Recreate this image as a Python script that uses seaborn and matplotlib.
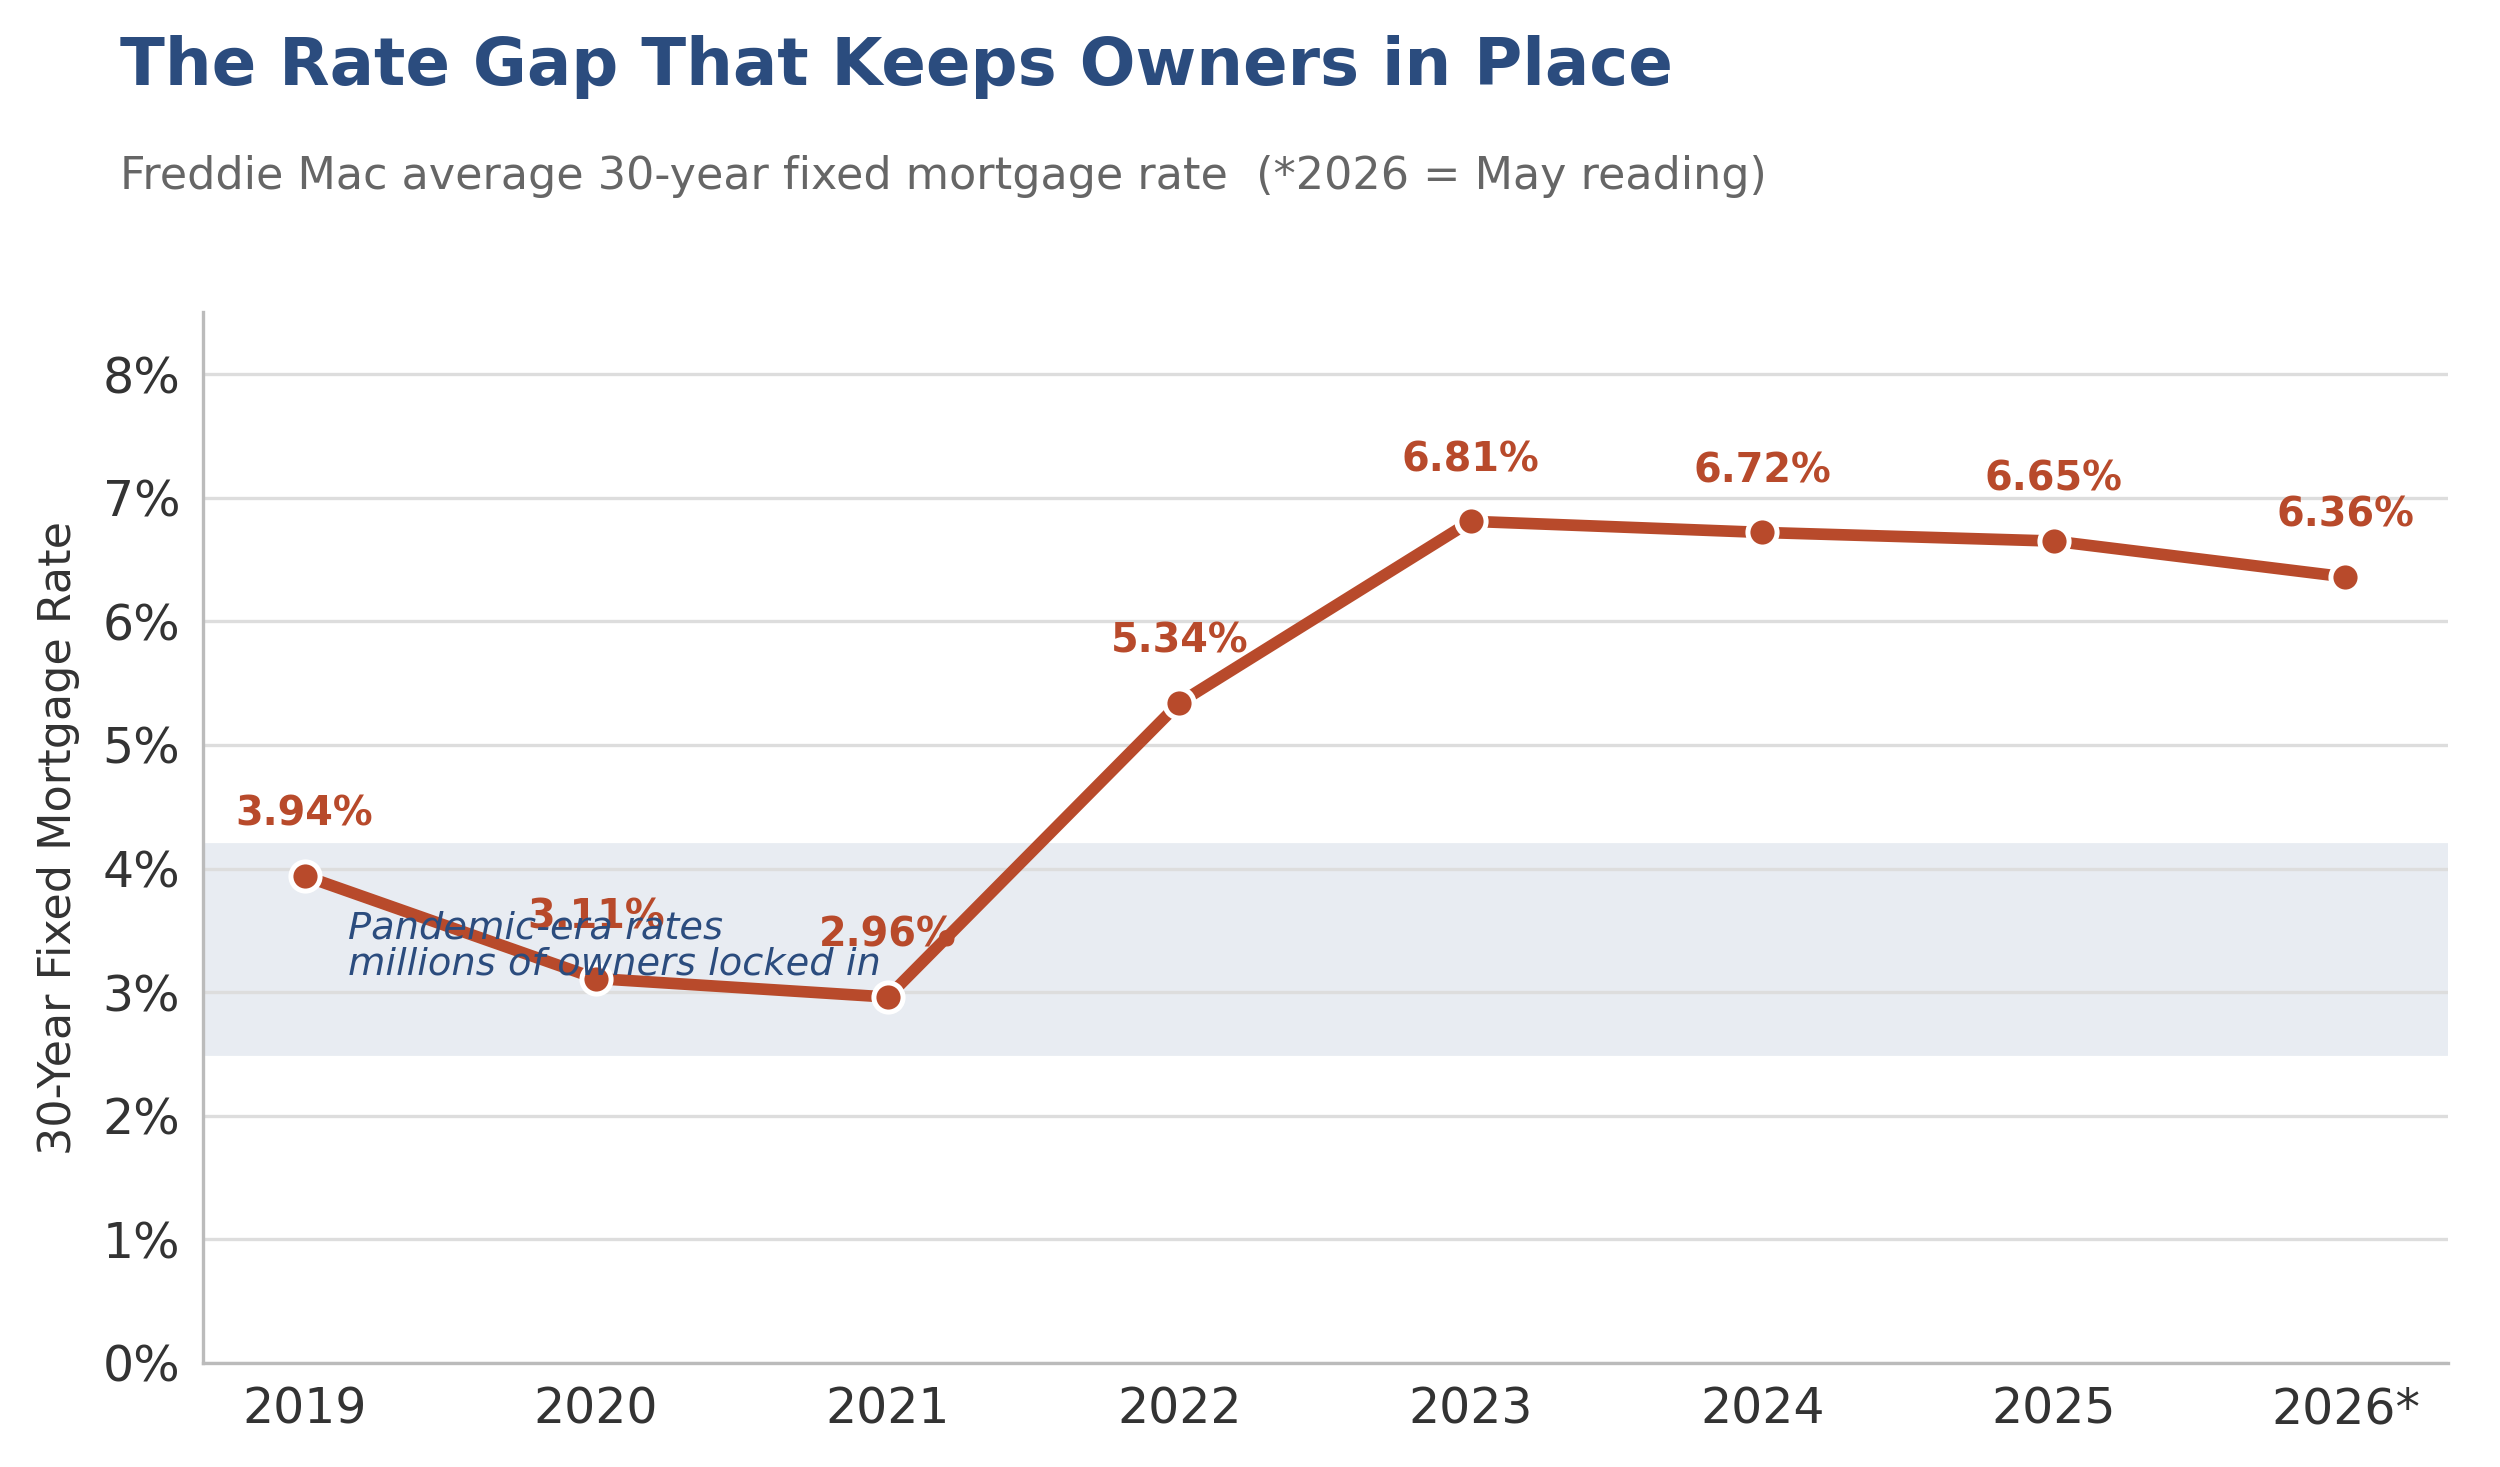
import seaborn as sns
import pandas as pd
import matplotlib.pyplot as plt
from matplotlib.ticker import FuncFormatter

# Data
years = ["2019", "2020", "2021", "2022", "2023", "2024", "2025", "2026*"]
rates = [3.94, 3.11, 2.96, 5.34, 6.81, 6.72, 6.65, 6.36]
band_low, band_high = 2.5, 4.2

line_color = "#b84a2b"
title_color = "#2b4c7e"

df = pd.DataFrame({"Year": years, "Rate": rates})
df["pos"] = range(len(df))

sns.set_style("whitegrid")
plt.rcParams["font.family"] = ["DejaVu Sans"]

fig = plt.figure(figsize=(12.5, 7.335), dpi=200)
ax = fig.add_axes([0.081, 0.071, 0.898, 0.716])

ax.axhspan(band_low, band_high, color="#e8ecf2", zorder=0)

sns.lineplot(data=df, x="pos", y="Rate", ax=ax, color=line_color, linewidth=4.2,
             marker="o", markersize=10.5, markeredgecolor="white", markeredgewidth=1.8,
             zorder=3)

for x, r in zip(df["pos"], df["Rate"]):
    ax.annotate(f"{r:.2f}%", (x, r), xytext=(0, 22), textcoords="offset points",
                ha="center", va="center", fontsize=14.3, fontweight="bold",
                color=line_color, zorder=4)

ax.text(0.15, 3.37, "Pandemic-era rates\nmillions of owners locked in",
        fontsize=13.8, style="italic", color=title_color, ha="left", va="center",
        linespacing=1.0, zorder=5)

ax.set_xlim(-0.35, len(years) - 1 + 0.35)
ax.set_ylim(0, 8.5)
ax.set_xticks(df["pos"])
ax.set_xticklabels(years)
ax.set_yticks(range(0, 9))
ax.yaxis.set_major_formatter(FuncFormatter(lambda v, p: f"{v:.0f}%"))
ax.tick_params(axis="both", labelsize=17.6, colors="#333333", length=0, pad=8)
ax.grid(axis="x", visible=False)
ax.grid(axis="y", color="#dddddd", linewidth=1.2)
ax.set_axisbelow(True)
ax.set_xlabel("")
ax.set_ylabel("30-Year Fixed Mortgage Rate", fontsize=16, color="#333333", labelpad=8)

for s in ["top", "right"]:
    ax.spines[s].set_visible(False)
for s in ["left", "bottom"]:
    ax.spines[s].set_color("#bbbbbb")
    ax.spines[s].set_linewidth(1.2)

fig.text(0.048, 0.954, "The Rate Gap That Keeps Owners in Place", fontsize=23.7,
         fontweight="bold", color=title_color, ha="left", va="center")
fig.text(0.048, 0.880, "Freddie Mac average 30-year fixed mortgage rate  (*2026 = May reading)",
         fontsize=16, color="#666666", ha="left", va="center")

plt.savefig("out.png", dpi=200)
plt.close()
